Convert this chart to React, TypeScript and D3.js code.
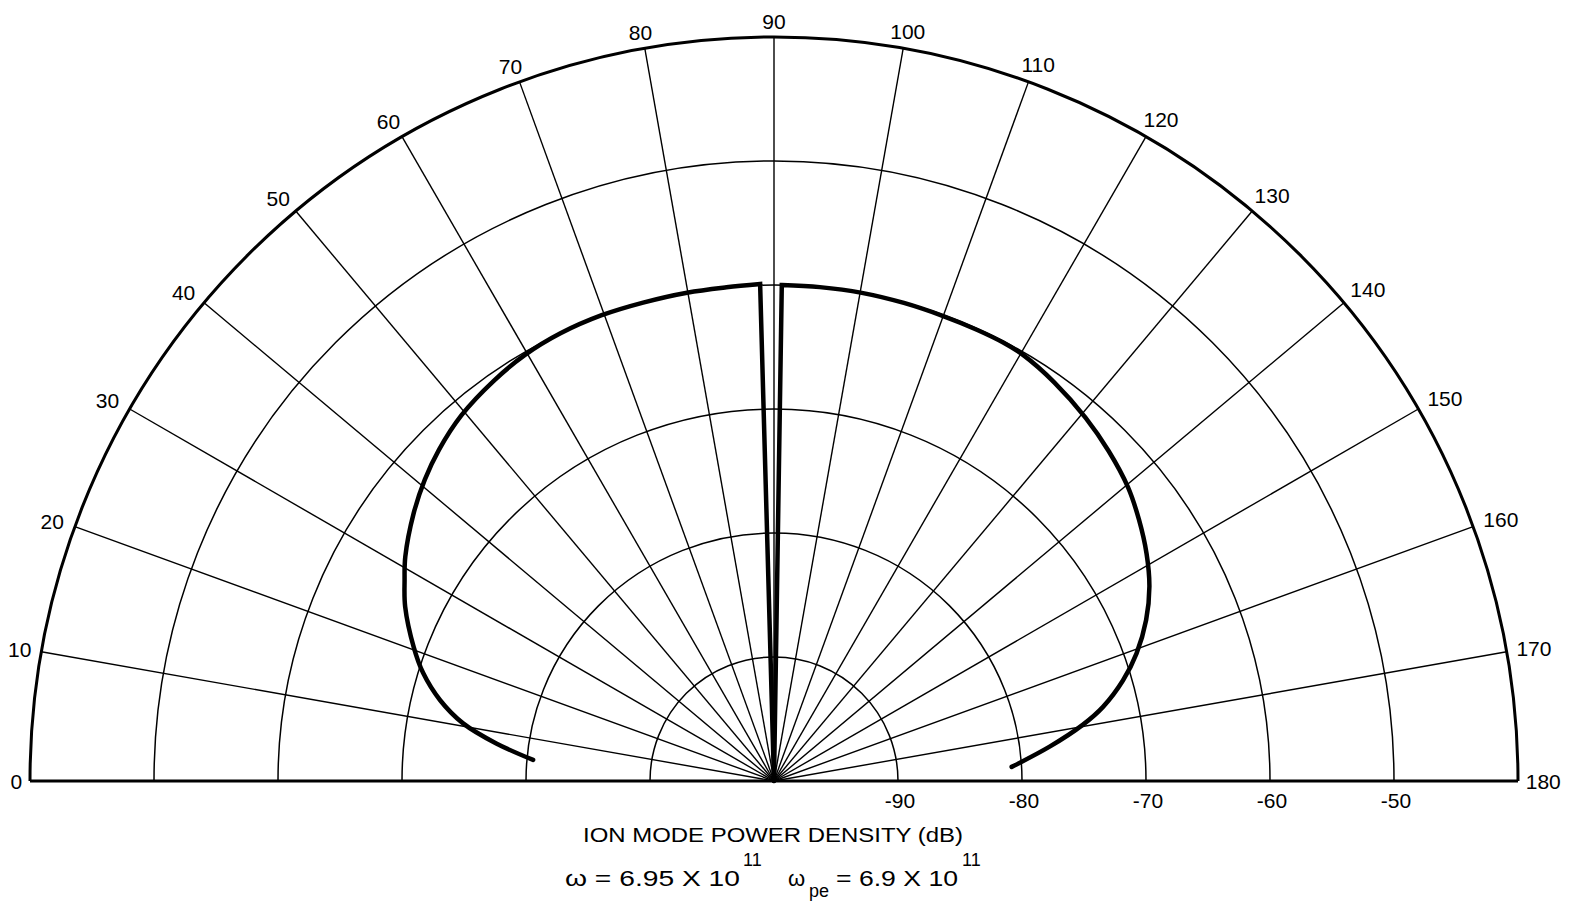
import React from "react";
import * as d3 from "d3";

// ---- data ----
const angleTicks = [0, 10, 20, 30, 40, 50, 60, 70, 80, 90, 100, 110, 120, 130, 140, 150, 160, 170, 180];
const spokeAngles = [10, 20, 30, 40, 50, 60, 70, 80, 90, 100, 110, 120, 130, 140, 150, 160, 170];
const dbRings = [-90, -80, -70, -60, -50, -40];
const dbLabels = [-90, -80, -70, -60, -50];

// left lobe (angle in degrees, 0 = left, 90 = top), ion mode power density in dB
const leftAngles = [5.0, 7.7, 10.5, 13.6, 17.1, 20.4, 25.3, 28.5, 31.3, 36.6, 40.8, 44.7, 49.5, 55.0, 59.7, 64.5, 69.7, 74.7, 79.9, 84.5, 88.4];
const leftDb = [-80.5, -77.4, -74.5, -72.3, -70.4, -69.0, -67.1, -66.1, -65.2, -63.8, -62.8, -62.0, -61.2, -60.6, -60.2, -60.0, -59.95, -60.0, -60.0, -60.0, -59.9];
// right lobe
const rightAngles = [90.9, 95.3, 100.2, 105.2, 110.0, 114.2, 117.6, 120.3, 125.1, 130.6, 135.4, 140.3, 144.4, 148.6, 152.6, 156.6, 160.6, 163.9, 167.3, 169.7, 172.9, 176.6];
const rightDb = [-60.0, -60.0, -60.0, -60.05, -60.1, -60.1, -60.1, -60.2, -60.7, -61.4, -62.1, -62.9, -63.8, -64.8, -65.9, -67.3, -69.0, -70.7, -72.8, -74.7, -77.6, -80.8];

const titleText = "ION MODE POWER DENSITY (dB)";

// ---- layout ----
const W = 1572;
const H = 917;
const cx = 774;
const cy = 781;
const R = 744;
const FONT = "'Liberation Sans', 'DejaVu Sans', sans-serif";

const rScale = d3.scaleLinear().domain([-100, -40]).range([0, R]);
const toRad = (deg: number) => ((deg - 90) * Math.PI) / 180;

const line = d3
  .lineRadial<[number, number]>()
  .angle((d) => toRad(d[0]))
  .radius((d) => rScale(d[1]))
  .curve(d3.curveCatmullRom.alpha(0.5));

const leftData: [number, number][] = leftAngles.map((a, i) => [a, leftDb[i]]);
const rightData: [number, number][] = rightAngles.map((a, i) => [a, rightDb[i]]).reverse() as [number, number][];

export default function App() {
  const leftPath = line(leftData) + "L0,0";
  const rightPath = line(rightData) + "L0,0";

  const ringPath = (db: number) => {
    const p = d3.path();
    const rr = rScale(db);
    p.arc(0, 0, rr, Math.PI, 2 * Math.PI);
    return p.toString();
  };

  const labelPos = (deg: number) => {
    const a = toRad(deg);
    const ux = Math.sin(a);
    const uy = -Math.cos(a);
    const txt = String(deg);
    const w = txt.length * 11.5;
    const h = 15;
    const d = 8 + Math.abs(ux) * (w / 2) + Math.abs(uy) * (h / 2);
    const px = R * ux;
    const py = R * uy;
    const side = Math.sin(2 * Math.abs(a)) * 4;
    return { x: px + ux * d + Math.sign(ux) * side, y: py + uy * d + side * 0.8, txt };
  };

  return (
    <svg
      width={W}
      height={H}
      style={{ position: "absolute", left: 0, top: 0, display: "block", background: "#fff" }}
      fontFamily={FONT}
    >
      <rect x={0} y={0} width={W} height={H} fill="#fff" />
      <g transform={`translate(${cx},${cy})`}>
        {/* rings */}
        {dbRings.map((db, i) => (
          <path
            key={db}
            d={ringPath(db)}
            fill="none"
            stroke="#000"
            strokeWidth={i === dbRings.length - 1 ? 3 : 1.5}
          />
        ))}
        {/* spokes */}
        {spokeAngles.map((deg) => {
          const a = toRad(deg);
          return (
            <line
              key={deg}
              x1={0}
              y1={0}
              x2={R * Math.sin(a)}
              y2={-R * Math.cos(a)}
              stroke="#000"
              strokeWidth={1.4}
            />
          );
        })}
        {/* baseline */}
        <line x1={-R} y1={0} x2={R} y2={0} stroke="#000" strokeWidth={3} />
        {/* pattern */}
        <path d={leftPath} fill="none" stroke="#000" strokeWidth={4.5} strokeLinejoin="miter" strokeLinecap="round" />
        <path d={rightPath} fill="none" stroke="#000" strokeWidth={4.5} strokeLinejoin="miter" strokeLinecap="round" />
        {/* angle labels */}
        {angleTicks.map((deg) => {
          const p = labelPos(deg);
          return (
            <text
              key={deg}
              x={p.x}
              y={p.y}
              textAnchor="middle"
              dominantBaseline="central"
              fontSize={21}
              fill="#000"
            >
              {p.txt}
            </text>
          );
        })}
        {/* dB labels */}
        {dbLabels.map((db) => (
          <text key={db} x={rScale(db) + 2} y={27} textAnchor="middle" fontSize={21} fill="#000">
            {"-" + Math.abs(db)}
          </text>
        ))}
      </g>
      {/* titles */}
      <text x={773} y={842} textAnchor="middle" fontSize={21} textLength={380} lengthAdjust="spacingAndGlyphs" fill="#000">
        {titleText}
      </text>
      <text x={565} y={886} fontSize={22} textLength={175} lengthAdjust="spacingAndGlyphs" fill="#000">
        ω = 6.95 X 10
      </text>
      <text x={743} y={866} fontSize={18} fill="#000">
        11
      </text>
      <text x={788} y={886} fontSize={22} fill="#000">
        ω
      </text>
      <text x={809} y={897} fontSize={18} fill="#000">
        pe
      </text>
      <text x={836} y={886} fontSize={22} textLength={122} lengthAdjust="spacingAndGlyphs" fill="#000">
        = 6.9 X 10
      </text>
      <text x={962} y={866} fontSize={18} fill="#000">
        11
      </text>
    </svg>
  );
}
